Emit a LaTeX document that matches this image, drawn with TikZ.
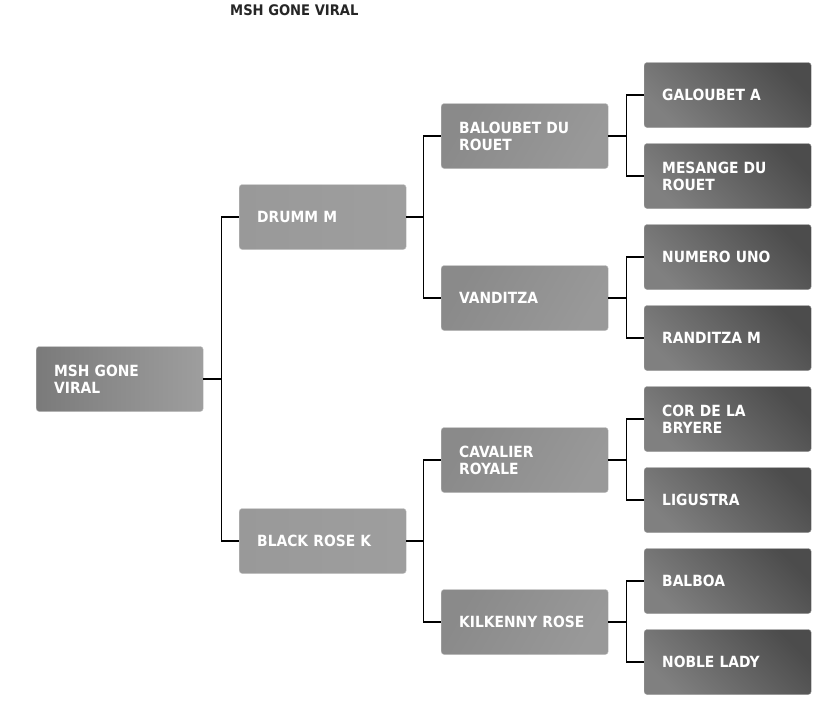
\documentclass[tikz,border=0pt]{standalone}
\usepackage{fontspec}
\setmainfont{DejaVu Sans Condensed}
\begin{document}
\begin{tikzpicture}[x=1pt,y=-1pt,
  base/.style={rounded corners=3pt, text=white, align=left, text width=131pt,
    inner xsep=18pt, inner ysep=0pt, minimum height=65pt, anchor=west,
    font={\fontsize{15.4}{17}\selectfont\bfseries}},
  gone/.style={base, left color=black!52, right color=black!38, draw=black!25, line width=0.4pt},
  gtwo/.style={base, left color=black!40, right color=black!38, draw=black!22, line width=0.4pt},
  gthree/.style={base, left color=black!46, right color=black!40, shading angle=60, draw=black!25, line width=0.4pt},
  gfour/.style={base, top color=black!50, bottom color=black!70, shading angle=135, draw=black!40, line width=0.4pt},
  link/.style={draw=black, line width=1.1pt}]
\fill[white] (0,0) rectangle (840,712);
\useasboundingbox (0,0) rectangle (840,712);
\node[anchor=base west, text=black!85, inner sep=0pt, font={\fontsize{14.6}{17}\selectfont\bfseries}] (title) at (230,16) {MSH GONE VIRAL};
% generation 1
\node[gone] (g1) at (36,379) {MSH GONE\\VIRAL};
% generation 2
\node[gtwo] (dr) at (239,217) {DRUMM M};
\node[gtwo] (br) at (239,541) {BLACK ROSE K};
% generation 3
\node[gthree] (ba) at (441,136) {BALOUBET DU\\ROUET};
\node[gthree] (va) at (441,298) {VANDITZA};
\node[gthree] (ca) at (441,460) {CAVALIER\\ROYALE};
\node[gthree] (ki) at (441,622) {KILKENNY ROSE};
% generation 4
\node[gfour] (ga) at (644,95) {GALOUBET A};
\node[gfour] (me) at (644,176) {MESANGE DU\\ROUET};
\node[gfour] (nu) at (644,257) {NUMERO UNO};
\node[gfour] (ra) at (644,338) {RANDITZA M};
\node[gfour] (co) at (644,419) {COR DE LA\\BRYERE};
\node[gfour] (li) at (644,500) {LIGUSTRA};
\node[gfour] (bb) at (644,581) {BALBOA};
\node[gfour] (no) at (644,662) {NOBLE LADY};
% connectors
\draw[link] (g1.east) -- ++(18,0) coordinate (j1);
\draw[link] (j1) |- (dr.west);
\draw[link] (j1) |- (br.west);
\draw[link] (dr.east) -- ++(17,0) coordinate (j2);
\draw[link] (j2) |- (ba.west);
\draw[link] (j2) |- (va.west);
\draw[link] (br.east) -- ++(17,0) coordinate (j3);
\draw[link] (j3) |- (ca.west);
\draw[link] (j3) |- (ki.west);
\draw[link] (ba.east) -- ++(18,0) coordinate (j4);
\draw[link] (j4) |- (ga.west);
\draw[link] (j4) |- (me.west);
\draw[link] (va.east) -- ++(18,0) coordinate (j5);
\draw[link] (j5) |- (nu.west);
\draw[link] (j5) |- (ra.west);
\draw[link] (ca.east) -- ++(18,0) coordinate (j6);
\draw[link] (j6) |- (co.west);
\draw[link] (j6) |- (li.west);
\draw[link] (ki.east) -- ++(18,0) coordinate (j7);
\draw[link] (j7) |- (bb.west);
\draw[link] (j7) |- (no.west);
\end{tikzpicture}
\end{document}
